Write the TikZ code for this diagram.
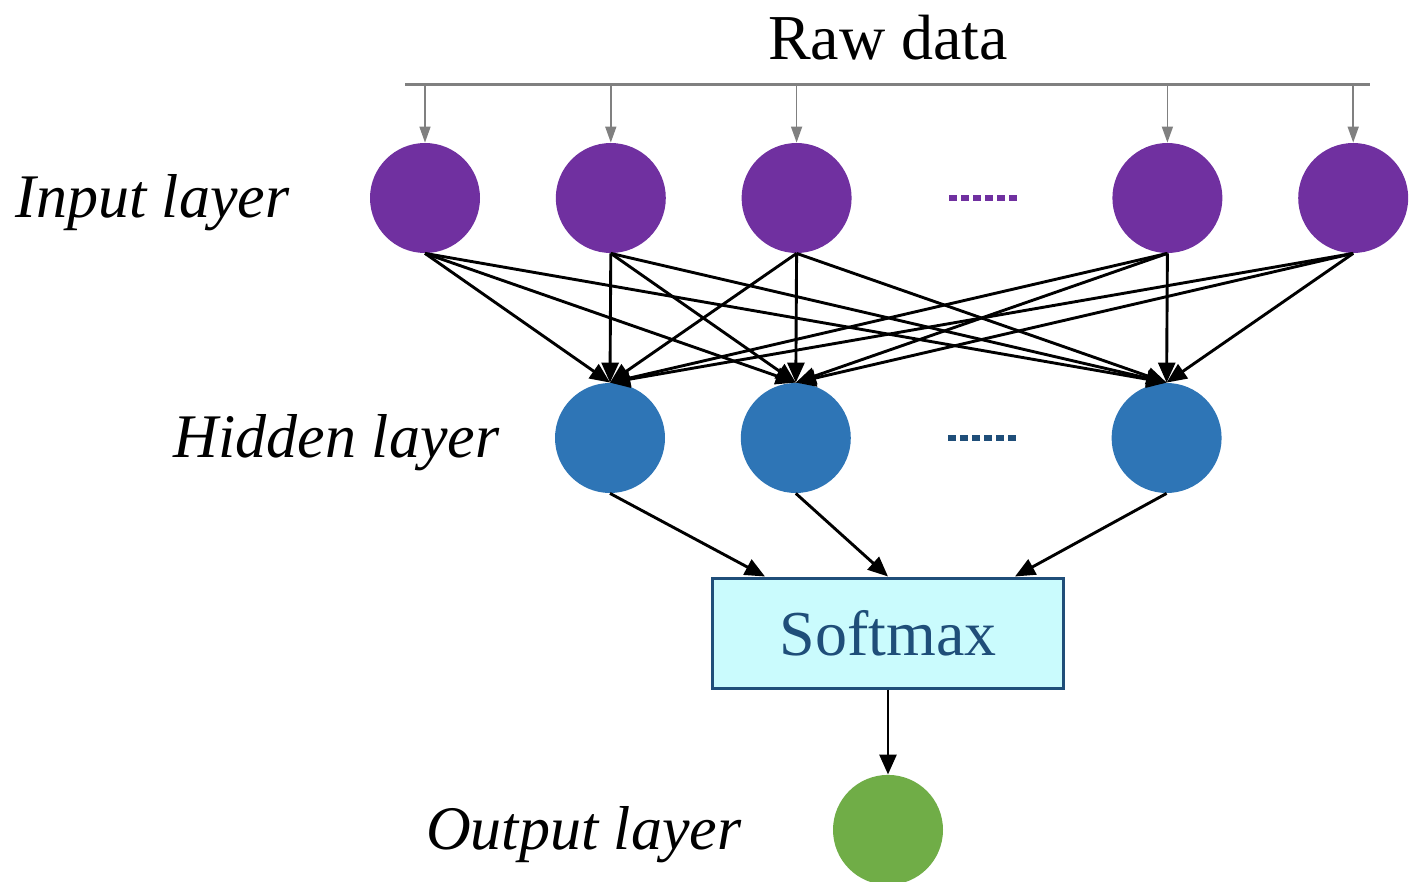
\documentclass[tikz,border=0pt]{standalone}
\usepackage{fontspec}
\setmainfont{Liberation Serif}
\usepackage{tikz}
\usetikzlibrary{positioning, arrows.meta, calc}
\definecolor{inPurple}{HTML}{7030A0}
\definecolor{hidBlue}{HTML}{2E75B6}
\definecolor{outGreen}{HTML}{70AD47}
\definecolor{darkBlue}{HTML}{1F4E79}
\definecolor{softCyan}{HTML}{CAFBFD}
\definecolor{busGray}{HTML}{808080}
\tikzstyle{inneuron} =[circle, fill=inPurple, minimum size=55pt, inner sep=0pt]
\tikzstyle{hidneuron} =[circle, fill=hidBlue, minimum size=55pt, inner sep=0pt]
\tikzstyle{layername} =[font=\fontsize{31}{37}\selectfont\itshape, inner sep=0pt, yshift=-2.5pt]
\tikzstyle{blackarrow} =[-{Triangle[length=10pt, width=8.5pt]}, line width=1.45pt, black]

\begin{document}
\begin{tikzpicture}[x=0.5pt, y=-0.5pt]
\useasboundingbox (0,0) rectangle (1414,882);

\node (raw) [font=\fontsize{32}{38}\selectfont] at (888,38) {Raw data};
\coordinate (busL) at (405,85);
\coordinate (busR) at (1370,85);
\draw[busGray, line width=1.5pt] (busL) -- (busR);

\node (in1) [inneuron] at (425,198) {};
\node (in2) [inneuron, right=37.5pt of in1] {};
\node (in3) [inneuron, right=37.5pt of in2] {};
\node (in4) [inneuron, right=130pt of in3] {};
\node (in5) [inneuron, right=37.5pt of in4] {};
\node (inTitle) [layername, left=40pt of in1] {Input layer};

\node (hid1) [hidneuron] at (610,438) {};
\node (hid2) [hidneuron, right=37.5pt of hid1] {};
\node (hid3) [hidneuron, right=130pt of hid2] {};
\node (hidTitle) [layername, left=27.5pt of hid1] {Hidden layer};

\node (softmax) [draw=darkBlue, fill=softCyan, line width=1.5pt, minimum width=175.5pt, minimum height=55pt, text=darkBlue, font=\fontsize{32}{38}\selectfont] at (888,633) {Softmax};

\node (out) [circle, fill=outGreen, minimum size=55pt, inner sep=0pt, below=42.5pt of softmax] {};
\node (outTitle) [layername, left=45.5pt of out] {Output layer};

%dots
\draw[inPurple, line width=3pt, dash pattern=on 4pt off 2pt]
	($(in3)!0.5!(in4)+(-33,0)$) -- ($(in3)!0.5!(in4)+(35,0)$);
\draw[darkBlue, line width=3pt, dash pattern=on 4pt off 2pt]
	($(hid2)!0.5!(hid3)+(-33,0)$) -- ($(hid2)!0.5!(hid3)+(35,0)$);

%raw data
\path[-{Triangle[length=8pt, width=5.5pt]}, line width=0.8pt, busGray]
	(in1 |- busL) edge (in1.north)
	(in2 |- busL) edge (in2.north)
	(in3 |- busL) edge (in3.north)
	(in4 |- busL) edge (in4.north)
	(in5 |- busL) edge (in5.north);

\path[blackarrow]
	(in1.south) edge (hid1.north) edge (hid2.north) edge (hid3.north);

\path[blackarrow]
	(in2.south) edge (hid1.north) edge (hid2.north) edge (hid3.north);

\path[blackarrow]
	(in3.south) edge (hid1.north) edge (hid2.north) edge (hid3.north);

\path[blackarrow]
	(in4.south) edge (hid1.north) edge (hid2.north) edge (hid3.north);

\path[blackarrow]
	(in5.south) edge (hid1.north) edge (hid2.north) edge (hid3.north);

\path[blackarrow]
	(hid1.south) edge ([xshift=-61.5pt]softmax.north);

\path[blackarrow]
	(hid2.south) edge (softmax.north);

\path[blackarrow]
	(hid3.south) edge ([xshift=63.5pt]softmax.north);

\path[blackarrow]
	(softmax) edge (out);
\end{tikzpicture}
\end{document}
